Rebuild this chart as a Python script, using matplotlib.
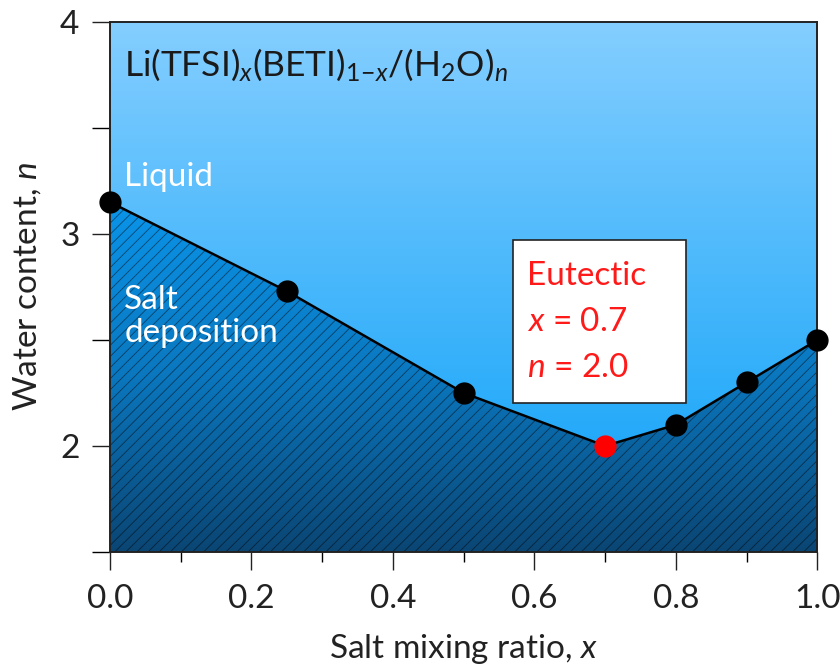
import matplotlib
matplotlib.use("Agg")
import matplotlib.pyplot as plt
import numpy as np
from matplotlib.colors import LinearSegmentedColormap
from matplotlib.patches import Rectangle
from matplotlib.ticker import MultipleLocator

# liquidus line of the mixed-salt hydrate
mix_ratio = [0.0, 0.25, 0.5, 0.7, 0.8, 0.9, 1.0]
water_n = [3.15, 2.73, 2.25, 2.0, 2.10, 2.30, 2.50]
eutectic_x = 0.7
eutectic_n = 2.0

plt.rcParams['font.family'] = ['Lato', 'DejaVu Sans']
plt.rcParams['mathtext.fontset'] = 'custom'
plt.rcParams['mathtext.rm'] = 'Lato'
plt.rcParams['mathtext.it'] = 'Lato:italic'

fig = plt.figure(figsize=(8.4, 6.65), dpi=100)
ax = fig.add_axes([0.131, 0.170, 0.842, 0.797])
xlim = (0.0, 1.0)
ylim = (1.5, 4.0)

# vertical gradients for liquid and solid regions
liquid_cmap = LinearSegmentedColormap.from_list('liq', ['#0aa0f8', '#84ceff'])
solid_cmap = LinearSegmentedColormap.from_list('sol', ['#0a4674', '#0a78c0', '#0a96ec'])
grad = np.linspace(0, 1, 256).reshape(-1, 1)
ax.imshow(grad, cmap=liquid_cmap, origin='lower', aspect='auto',
          extent=[xlim[0], xlim[1], ylim[0], ylim[1]], zorder=0)
solid_img = ax.imshow(grad, cmap=solid_cmap, origin='lower', aspect='auto',
                      extent=[xlim[0], xlim[1], ylim[0], 3.2], zorder=1)
region = ax.fill_between(mix_ratio, water_n, ylim[0], facecolor='none', edgecolor='none')
clip_path = region.get_paths()[0]
solid_img.set_clip_path(clip_path, transform=ax.transData)

plt.rcParams['hatch.linewidth'] = 0.6
ax.fill_between(mix_ratio, water_n, ylim[0], facecolor='none',
                edgecolor=(0, 0, 0, 0.5), hatch='///', linewidth=0, zorder=2)

ax.plot(mix_ratio, water_n, color='black', lw=1.8, zorder=3)
pts = [(x, n) for x, n in zip(mix_ratio, water_n) if x != eutectic_x]
ax.plot([p[0] for p in pts], [p[1] for p in pts], 'o', color='black',
        markersize=15, clip_on=False, zorder=4)
ax.plot(eutectic_x, eutectic_n, 'o', color='#ff0000', markersize=15, zorder=4)

ax.set_xlim(*xlim)
ax.set_ylim(*ylim)

ax.text(0.02, 3.80, r'Li(TFSI)$_x$(BETI)$_{1\!-\!x}$/(H$_2$O)$_n$', fontsize=25.5,
        color='#1a1a1a', va='center', zorder=5)
ax.text(0.02, 3.27, 'Liquid', fontsize=24, color='white', va='center', zorder=5)
ax.text(0.02, 2.61, 'Salt\ndeposition', fontsize=24, color='white', va='center',
        linespacing=1.15, zorder=5)

# eutectic annotation box
ax.add_patch(Rectangle((0.570, 0.281), 0.245, 0.308, transform=ax.transAxes,
                       facecolor='white', edgecolor='#222222', lw=1.2, zorder=5))
ax.text(0.590, 0.434, 'Eutectic\n$x$ = 0.7\n$n$ = 2.0', transform=ax.transAxes,
        fontsize=24, color='#ff1a1a', va='center', linespacing=1.65, zorder=6)

ax.xaxis.set_major_locator(MultipleLocator(0.2))
ax.xaxis.set_minor_locator(MultipleLocator(0.1))
ax.yaxis.set_major_locator(MultipleLocator(1))
ax.yaxis.set_minor_locator(MultipleLocator(0.5))
ax.set_xticklabels([f'{v:.1f}' for v in ax.get_xticks()])
ax.tick_params(which='major', direction='out', length=13, width=1, labelsize=24,
               colors='#222222')
ax.tick_params(axis='x', which='major', pad=10)
ax.tick_params(axis='y', which='major', pad=9)
ax.tick_params(axis='x', which='minor', direction='out', length=7, width=1)
ax.tick_params(axis='y', which='minor', direction='out', length=13, width=1)
for sp in ax.spines.values():
    sp.set_linewidth(1.4)
    sp.set_color('#222222')

ax.set_xlabel('Salt mixing ratio, $x$', fontsize=24, color='#222222', labelpad=13)
ax.set_ylabel('Water content, $n$', fontsize=24, color='#222222', labelpad=12)

fig.savefig('out.png', dpi=100)
